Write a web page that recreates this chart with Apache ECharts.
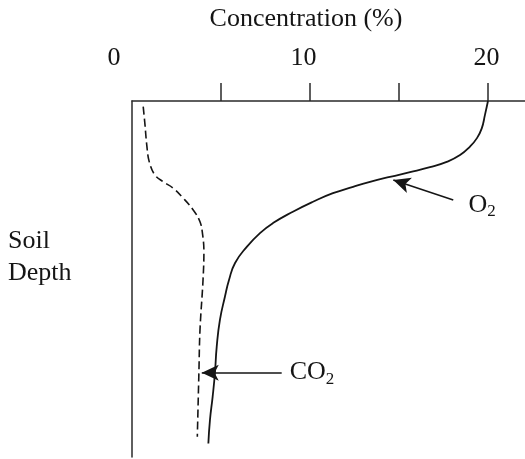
<!DOCTYPE html>
<html>
<head>
<meta charset="utf-8">
<script src="https://cdn.jsdelivr.net/npm/echarts@6/dist/echarts.min.js"></script>
<style>
  html, body { margin: 0; padding: 0; background: #fff; }
  #main { width: 525px; height: 459px; }
</style>
</head>
<body>
<div id="main"></div>
<script>
// concentration (%), depth 0 = surface, 100 = bottom of the plot
var o2Conc  = [20.0, 19.83, 19.65, 19.37, 18.99, 18.43, 17.68, 16.74, 15.62, 14.49, 13.37, 12.42, 11.29, 10.17, 9.04, 7.92, 7.19, 6.46, 5.79, 5.45, 5.22, 4.94, 4.76, 4.66, 4.53, 4.38, 4.29];
var o2Depth = [0, 3.9, 7.7, 10.5, 12.8, 15.2, 17.1, 18.6, 20.0, 21.3, 22.7, 24.1, 25.9, 28.3, 31.1, 34.3, 37.1, 40.9, 45.5, 50.3, 55.0, 61.5, 69.0, 76.4, 83.1, 89.6, 96.2];

var co2Conc  = [0.63, 0.73, 0.83, 0.97, 1.29, 1.76, 2.32, 2.88, 3.44, 3.82, 3.97, 4.04, 3.99, 3.82, 3.76, 3.67];
var co2Depth = [1.6, 6.7, 12.4, 17.1, 20.8, 22.7, 24.5, 27.3, 30.6, 33.9, 37.6, 42.3, 50.3, 64.3, 76.0, 94.3];

var tickValues  = [5, 10, 15, 20];
var labelValues = [0, 10, 20];

// arrows: [fromConc, fromDepth, toConc, toDepth]
var o2Arrow  = [18.05, 27.8, 14.68, 22.2];
var co2Arrow = [8.41, 76.3, 3.92, 76.3];

var serif = 'Liberation Serif';
var ink = '#151515';

function zip(a, b) {
  return a.map(function (v, i) { return [v, b[i]]; });
}

// the original labels sit a bit left of their ticks
var labelShift = { 0: 36, 10: 13, 20: 3 };

function arrow(a, name, dist) {
  return [
    { coord: [a[0], a[1]], symbol: 'none',
      label: { show: true, position: 'start', distance: dist, formatter: name } },
    { coord: [a[2], a[3]], symbol: 'arrow', symbolSize: [12, 17] }
  ];
}

var subRich = {
  b: { fontFamily: serif, fontSize: 26, color: ink },
  s: { fontFamily: serif, fontSize: 17, color: ink, padding: [13, 0, 0, 0] }
};

var myChart = echarts.init(document.getElementById('main'));
myChart.setOption({
  animation: false,
  title: [
    { text: 'Concentration (%)', left: 306, top: 6, textAlign: 'center', padding: 0,
      textStyle: { fontFamily: serif, fontSize: 26, fontWeight: 'normal', color: ink } },
    { text: 'Soil\nDepth', left: 8, top: 225, padding: 0,
      textStyle: { fontFamily: serif, fontSize: 26, lineHeight: 32, fontWeight: 'normal', color: ink } }
  ],
  grid: { left: 132, right: 0, top: 101, bottom: 2, containLabel: false },
  xAxis: {
    type: 'value',
    position: 'top',
    min: 0,
    max: 22.08,
    axisLine: { show: true, onZero: false, lineStyle: { color: '#2a2a2a', width: 1.5 } },
    axisTick: { show: true, inside: false, length: 18, customValues: tickValues,
      lineStyle: { color: '#2a2a2a', width: 1.5 } },
    axisLabel: {
      customValues: labelValues,
      margin: 30,
      formatter: function (v) { return '{l' + v + '|' + v + '}'; },
      rich: {
        l0:  { fontFamily: serif, fontSize: 26, color: ink, padding: [0, labelShift[0], 0, 0] },
        l10: { fontFamily: serif, fontSize: 26, color: ink, padding: [0, labelShift[10], 0, 0] },
        l20: { fontFamily: serif, fontSize: 26, color: ink, padding: [0, labelShift[20], 0, 0] }
      }
    },
    splitLine: { show: false }
  },
  yAxis: {
    type: 'value',
    inverse: true,
    min: 0,
    max: 100,
    axisLine: { show: true, onZero: false, lineStyle: { color: '#2a2a2a', width: 1.5 } },
    axisTick: { show: false },
    axisLabel: { show: false },
    splitLine: { show: false }
  },
  series: [
    {
      name: 'O2',
      type: 'line',
      smooth: 0.5,
      showSymbol: false,
      lineStyle: { color: ink, width: 1.8 },
      data: zip(o2Conc, o2Depth),
      markLine: {
        silent: true,
        animation: false,
        lineStyle: { color: ink, width: 1.6, type: 'solid' },
        label: { rich: subRich },
        data: [
          arrow(o2Arrow, '{b|O}{s|2}', 16),
          arrow(co2Arrow, '{b|CO}{s|2}', 8)
        ]
      }
    },
    {
      name: 'CO2',
      type: 'line',
      smooth: 0.4,
      showSymbol: false,
      lineStyle: { color: ink, width: 1.6, type: [8, 4] },
      data: zip(co2Conc, co2Depth)
    }
  ]
});
</script>
</body>
</html>
